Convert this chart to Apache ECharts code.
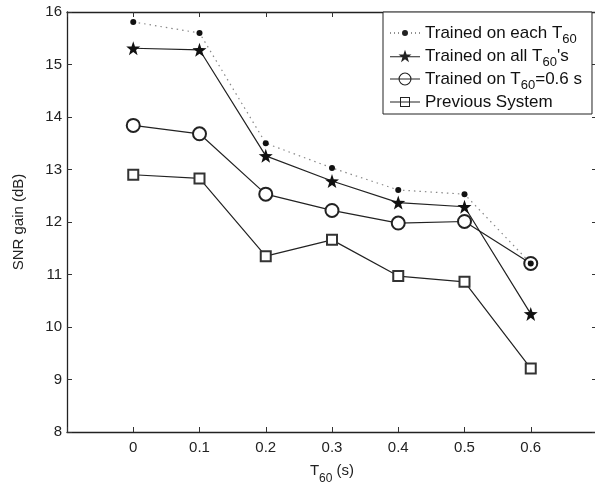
<!DOCTYPE html>
<html><head><meta charset="utf-8">
<script src="https://cdn.jsdelivr.net/npm/echarts@6/dist/echarts.min.js"></script>
<style>html,body{margin:0;padding:0;background:#fff}#c{width:595px;height:486px}</style>
</head><body><div id="c"></div>
<script>
const t60 = [0, 0.1, 0.2, 0.3, 0.4, 0.5, 0.6];
const seriesNames = ['Trained on each T{s|60}', "Trained on all T{s|60}'s", 'Trained on T{s|60}=0.6 s', 'Previous System'];
const eachT60 = [15.81, 15.60, 13.50, 13.03, 12.61, 12.53, 11.21];
const allT60 = [15.31, 15.28, 13.26, 12.78, 12.37, 12.29, 10.25];
const t06 = [13.84, 13.68, 12.53, 12.22, 11.98, 12.01, 11.21];
const previous = [12.90, 12.83, 11.35, 11.66, 10.97, 10.86, 9.21];
const yTicks = [8, 9, 10, 11, 12, 13, 14, 15, 16];

const pair = arr => t60.map((x, i) => [x, arr[i]]);
const font = 'Liberation Sans, Arial, Helvetica, sans-serif';
const chart = echarts.init(document.getElementById('c'), null, {renderer: 'canvas'});
const axisLine = {show: true, onZero: false, lineStyle: {color: '#222', width: 1.3}};
const tickIn = {show: true, inside: true, length: 5, lineStyle: {color: '#333', width: 1}};
const xFmt = v => (v < -0.05 || v > 0.65) ? '' : String(Math.round(v * 10) / 10);
const yFmt = v => yTicks.indexOf(v) >= 0 ? String(v) : '';

// legend icons (30 px wide glyphs: line + marker)
const lineRect = 'M0,-0.5 L30,-0.5 L30,0.5 L0,0.5 Z ';
const dotted = [0, 4, 8, 21, 25, 29].map(x => `M${x},-0.5 L${x + 1},-0.5 L${x + 1},0.5 L${x},0.5 Z `).join('');
const iconDot = 'path://' + dotted + 'M12,0 A3,3 0 1,0 18,0 A3,3 0 1,0 12,0 Z';
const starPts = [[0,-6.8],[1.6,-2.2],[6.47,-2.1],[2.58,0.84],[4.0,5.5],[0,2.72],[-4.0,5.5],[-2.58,0.84],[-6.47,-2.1],[-1.6,-2.2]];
const iconStar = 'path://' + lineRect + 'M' + starPts.map(p => `${(p[0] + 15).toFixed(2)},${p[1]}`).join(' L') + ' Z';
const iconCircle = 'path://' + lineRect + 'M8.5,0 A6.5,6.5 0 1,1 21.5,0 A6.5,6.5 0 1,1 8.5,0 Z M9.6,0 A5.4,5.4 0 1,0 20.4,0 A5.4,5.4 0 1,0 9.6,0 Z';
const iconSquare = 'path://' + lineRect + 'M10,-5 L20,-5 L20,5 L10,5 Z M11,-4 L11,4 L19,4 L19,-4 Z';
const legendIcons = [iconDot, iconStar, iconCircle, iconSquare];

chart.setOption({
  animation: false,
  backgroundColor: '#fff',
  grid: {left: 67, top: 12, width: 530, height: 420, show: false, containLabel: false, outerBoundsMode: 'none'},
  legend: {
    show: true,
    orient: 'vertical',
    left: 383, top: 12,
    padding: [11, 10, 2, 7],
    itemGap: 0,
    itemWidth: 30, itemHeight: 14,
    backgroundColor: '#fff',
    borderColor: '#222', borderWidth: 1,
    textStyle: {fontFamily: font, fontSize: 17, color: '#111', lineHeight: 20,
      rich: {s: {fontFamily: font, fontSize: 13, color: '#111', height: 7, lineHeight: 7, padding: [13, 0, 0, 0]}}},
    data: seriesNames.map((n, i) => ({name: n, icon: legendIcons[i], itemStyle: {color: '#222', borderWidth: 0}}))
  },
  xAxis: [{
    type: 'value', min: -0.1, max: 0.7, interval: 0.1,
    position: 'bottom',
    axisLine: axisLine, axisTick: tickIn, splitLine: {show: false},
    axisLabel: {formatter: xFmt, fontFamily: font, fontSize: 15, color: '#222', margin: 8},
    name: 'T{s|60} (s)', nameLocation: 'middle', nameGap: 26,
    nameTextStyle: {fontFamily: font, fontSize: 15, color: '#222', lineHeight: 21,
      rich: {s: {fontFamily: font, fontSize: 12, height: 4, lineHeight: 4, padding: [17, 0, 0, 0], color: '#222'}}}
  }, {
    type: 'value', min: -0.1, max: 0.7, interval: 0.1, position: 'top',
    axisLine: axisLine, axisTick: tickIn, axisLabel: {show: false}, splitLine: {show: false}
  }],
  yAxis: [{
    type: 'value', min: 8, max: 16, interval: 1,
    axisLine: axisLine, axisTick: tickIn, splitLine: {show: false},
    axisLabel: {formatter: yFmt, fontFamily: font, fontSize: 15, color: '#222', margin: 5},
    name: 'SNR gain (dB)', nameLocation: 'middle', nameRotate: 90, nameGap: 41,
    nameTextStyle: {fontFamily: font, fontSize: 15, color: '#222'}
  }, {
    type: 'value', min: 8, max: 16, interval: 1, position: 'right',
    axisLine: axisLine, axisTick: tickIn, axisLabel: {show: false}, splitLine: {show: false}
  }],
  series: [
    {name: seriesNames[0], type: 'line', data: pair(eachT60), symbol: 'circle', symbolSize: 6,
      itemStyle: {color: '#111'}, lineStyle: {color: '#888', width: 1.2, type: [1.5, 4]}, z: 5},
    {name: seriesNames[1], type: 'line', data: pair(allT60),
      symbol: 'path://M0,-10 L2.35,-3.24 L9.51,-3.09 L3.8,1.24 L5.88,8.09 L0,4 L-5.88,8.09 L-3.8,1.24 L-9.51,-3.09 L-2.35,-3.24 Z',
      symbolSize: 14, itemStyle: {color: '#111'}, lineStyle: {color: '#222', width: 1.2}, z: 4},
    {name: seriesNames[2], type: 'line', data: pair(t06), symbol: 'emptyCircle', symbolSize: 13,
      itemStyle: {color: '#222', borderWidth: 1.2}, lineStyle: {color: '#222', width: 1.2}, z: 3},
    {name: seriesNames[3], type: 'line', data: pair(previous), symbol: 'emptyRect', symbolSize: 10,
      itemStyle: {color: '#333', borderWidth: 1.2}, lineStyle: {color: '#222', width: 1.2}, z: 2}
  ]
});
</script></body></html>
